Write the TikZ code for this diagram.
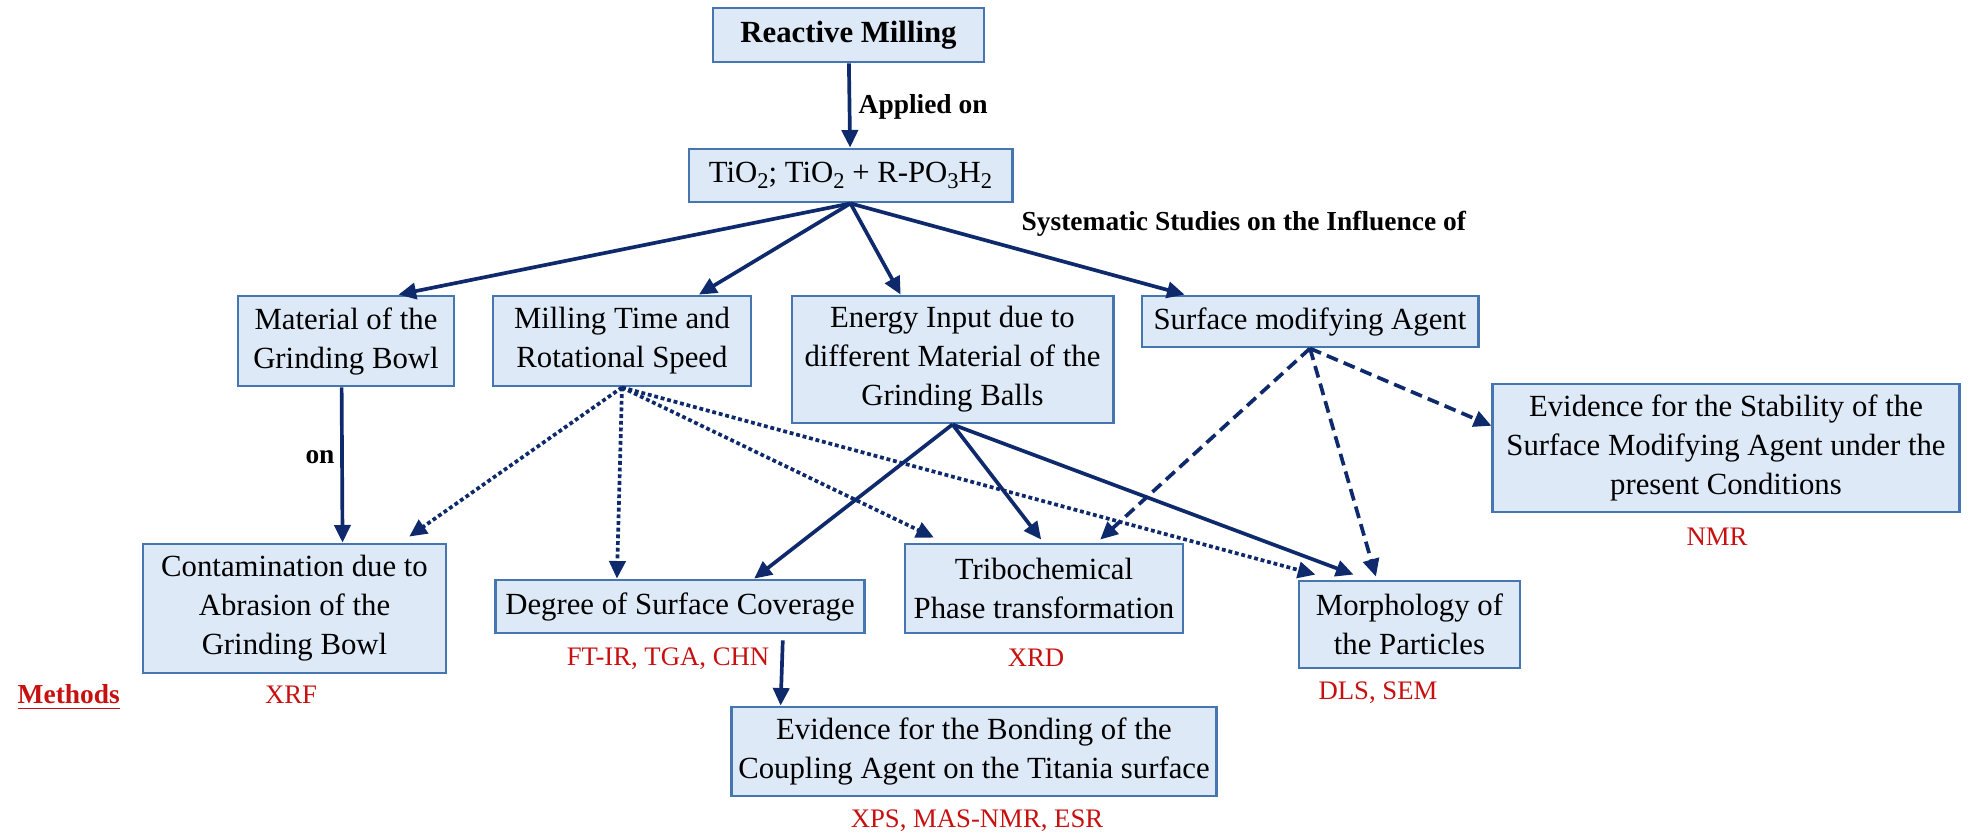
\documentclass[tikz,border=0pt]{standalone}
\usepackage{fontspec}
\setmainfont{Liberation Serif}
\usetikzlibrary{arrows.meta,calc}

\definecolor{boxfill}{RGB}{221,233,246}
\definecolor{boxline}{RGB}{70,118,176}
\definecolor{linkblue}{RGB}{14,42,108}
\definecolor{methodred}{RGB}{200,16,16}

\newcommand{\lowsub}[1]{\raisebox{-0.45ex}{\fontsize{6.4}{6.4}\selectfont #1}}

\tikzset{
  box/.style={draw=boxline, fill=boxfill, line width=0.8pt, align=center, inner sep=0pt,
    font=\fontsize{8.75}{11.1}\selectfont},
  link/.style={draw=linkblue, line width=1.05pt, -{Triangle[length=5pt,width=4.6pt]}},
  dotlink/.style={link, dash pattern=on 1.1pt off 0.8pt},
  dashlink/.style={link, dash pattern=on 3.4pt off 1.8pt},
  method/.style={text=methodred, inner sep=0pt, font=\fontsize{7.6}{9}\selectfont},
  tag/.style={inner sep=0pt, font=\fontsize{7.8}{9}\selectfont\bfseries}
}

\begin{document}
\begin{tikzpicture}[x=0.01cm, y=-0.01cm]
\useasboundingbox (0,0) rectangle (1971,835);

% boxes
\node[box, minimum width=2.71cm, minimum height=0.54cm, font=\fontsize{8.75}{11.1}\selectfont\bfseries] (rm) at (848.5,35) {Reactive Milling};
\node[box, minimum width=3.23cm, minimum height=0.53cm] (tio) at (850.5,175.5) {TiO\lowsub{2}; TiO\lowsub{2} + R-PO\lowsub{3}H\lowsub{2}};

\node[box, minimum width=2.16cm, minimum height=0.90cm] (mat) at (346,341) {Material of the\\Grinding Bowl};
\node[box, minimum width=2.58cm, minimum height=0.90cm] (mil) at (622,341) {Milling Time and\\Rotational Speed};
\node[box, minimum width=3.21cm, minimum height=1.27cm] (ene) at (952.5,359.5) {Energy Input due to\\different Material of the\\Grinding Balls};
\node[box, minimum width=3.36cm, minimum height=0.51cm] (sur) at (1310,321.5) {Surface modifying Agent};
\node[box, minimum width=4.66cm, minimum height=1.28cm] (sta) at (1726,448) {Evidence for the Stability of the\\Surface Modifying Agent under the\\present Conditions};

\node[box, minimum width=3.03cm, minimum height=1.29cm] (con) at (294.5,608.5) {Contamination due to\\Abrasion of the\\Grinding Bowl};
\node[box, minimum width=3.68cm, minimum height=0.53cm] (deg) at (680,606.5) {Degree of Surface Coverage};
\node[box, minimum width=2.78cm, minimum height=0.89cm] (tri) at (1044,588.5) {Tribochemical\\Phase transformation};
\node[box, minimum width=2.21cm, minimum height=0.87cm] (mor) at (1409.5,624.5) {Morphology of\\the Particles};
\node[box, minimum width=4.84cm, minimum height=0.89cm] (bon) at (974,751.5) {Evidence for the Bonding of the\\Coupling Agent on the Titania surface};

% labels
\node[tag, anchor=base west] (applied) at (858,113) {Applied on};
\node[tag, anchor=base west] (studies) at (1021,230) {Systematic Studies on the Influence of};
\node[tag, anchor=base] (on) at (320,463) {on};

% methods
\node[method, anchor=base west, font=\fontsize{7.8}{9}\selectfont\bfseries] (methods) at (17,703) {\underline{Methods}};
\node[method, anchor=base] (xrf) at (291,703) {XRF};
\node[method, anchor=base] (ftir) at (668,665) {FT-IR, TGA, CHN};
\node[method, anchor=base] (xrd) at (1036,666) {XRD};
\node[method, anchor=base] (dls) at (1378,699) {DLS, SEM};
\node[method, anchor=base] (nmr) at (1717,545) {NMR};
\node[method, anchor=base] (xps) at (977,827) {XPS, MAS-NMR, ESR};

% connectors
\draw[link] (rm) -- (tio);
\draw[link] (tio.south) -- ($(mat.north west)!.74!(mat.north east)$);
\draw[link] (tio.south) -- ($(mil.north west)!.795!(mil.north east)$);
\draw[link] (tio.south) -- ($(ene.north west)!.34!(ene.north east)$);
\draw[link] (tio.south) -- ($(sur.north west)!.13!(sur.north east)$);

\draw[link] ($(mat.south west)!.48!(mat.south east)$) -- ($(con.north west)!.657!(con.north east)$);

\draw[dotlink] (mil.south) -- ($(con.north west)!.875!(con.north east) + (0,-6)$);
\draw[dotlink] (mil.south) -- ($(deg.north west)!.33!(deg.north east)$);
\draw[dotlink] (mil.south) -- ($(tri.north west)!.108!(tri.north east) + (0,-5)$);
\draw[dotlink] (mil.south) -- ($(mor.north west)!.08!(mor.north east) + (0,-5)$);

\draw[link] (ene.south) -- ($(deg.north west)!.70!(deg.north east)$);
\draw[link] (ene.south) -- ($(tri.north west)!.49!(tri.north east) + (0,-3)$);
\draw[link] (ene.south) -- ($(mor.north west)!.25!(mor.north east) + (0,-5)$);

\draw[dashlink] (sur.south) -- ($(tri.north west)!.70!(tri.north east) + (0,-3)$);
\draw[dashlink] (sur.south) -- ($(mor.north west)!.35!(mor.north east) + (0,-3)$);
\draw[dashlink] (sur.south) -- ($(sta.north west)!.33!(sta.south west)$);

\draw[link] ($(deg.south west)!.777!(deg.south east) + (0,6)$) -- ($(bon.north west)!.103!(bon.north east)$);
\end{tikzpicture}
\end{document}
